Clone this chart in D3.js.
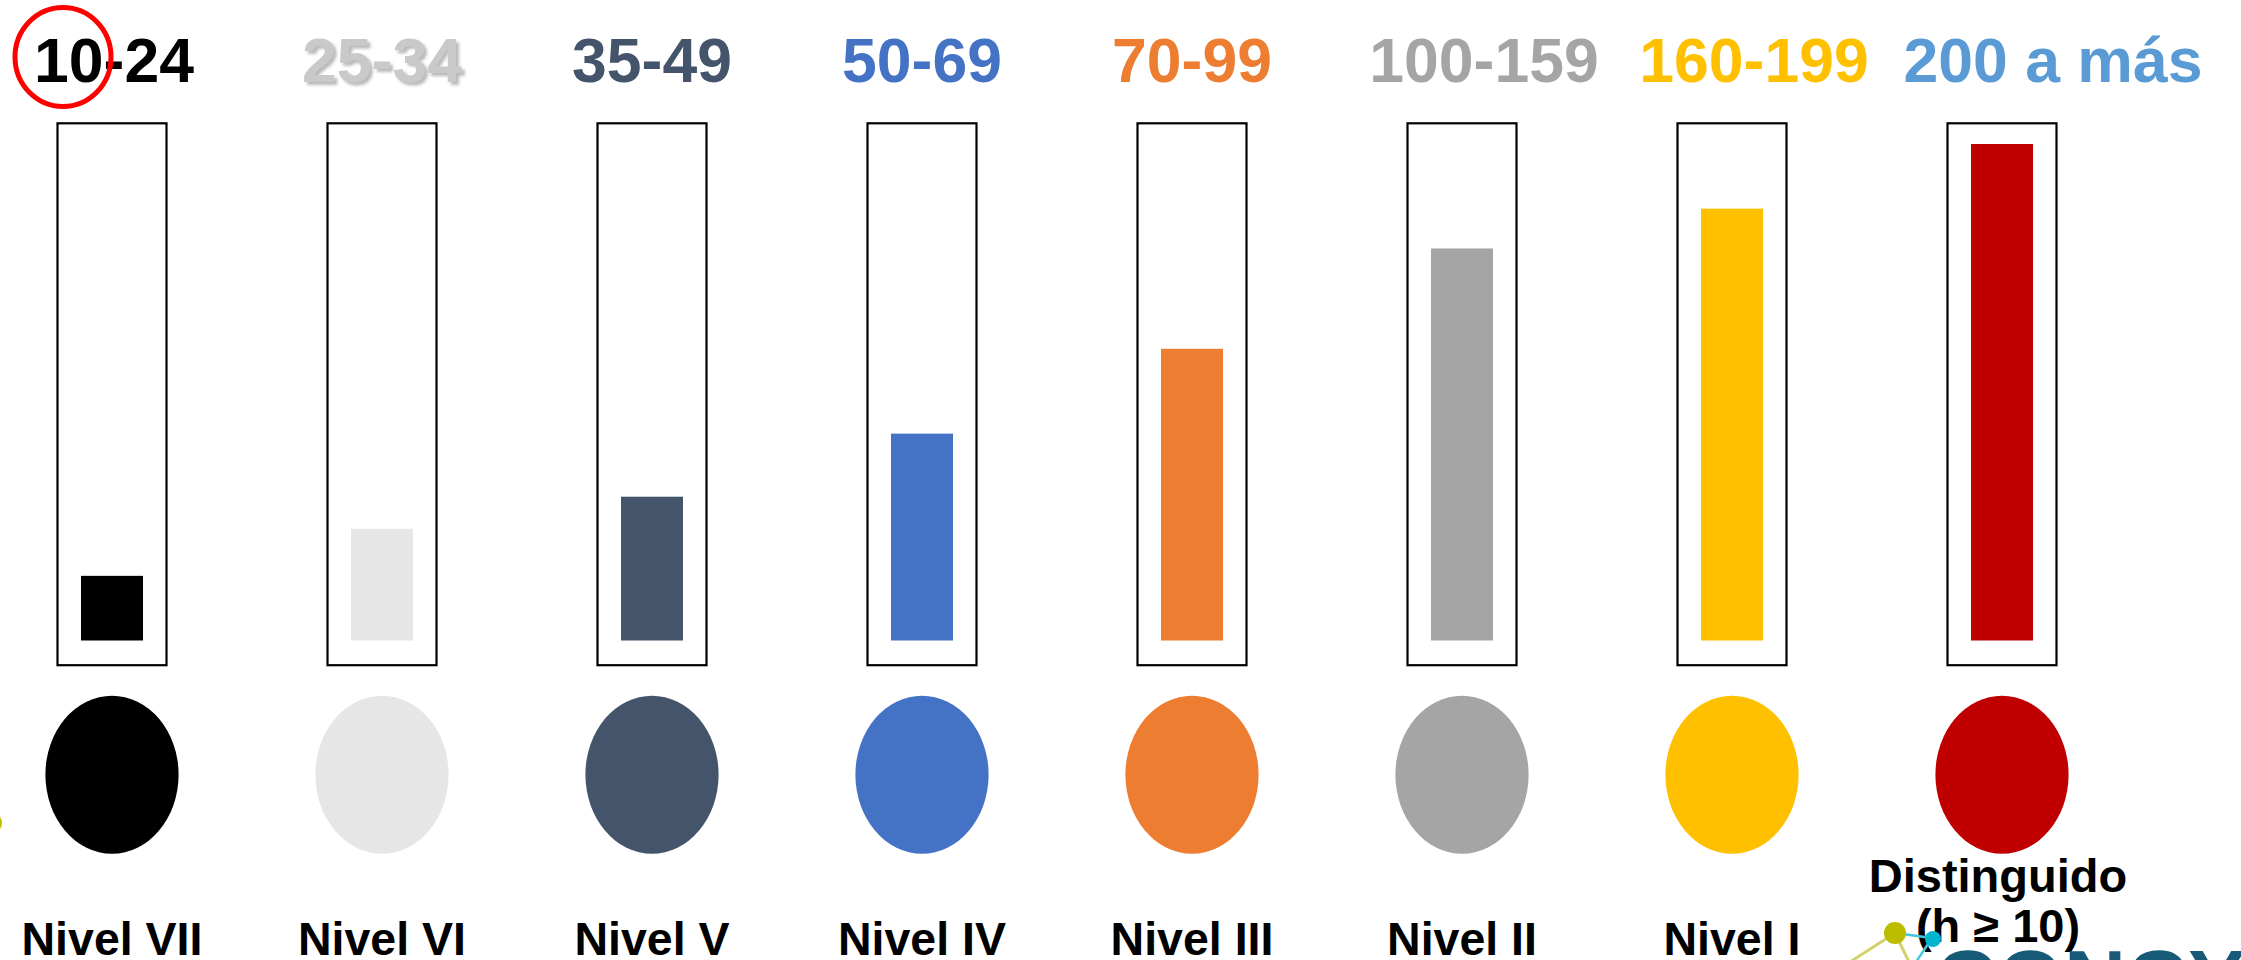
<!DOCTYPE html>
<html>
<head>
<meta charset="utf-8">
<script src="https://cdn.jsdelivr.net/npm/d3@7"></script>
<style>
  html, body { margin: 0; padding: 0; background: #fff; overflow: hidden; }
  svg { display: block; font-family: "Liberation Sans", Arial, sans-serif; }
</style>
</head>
<body>
<svg id="chart"></svg>
<script>
// h-index ranges (top labels)
const ranges = ["10-24", "25-34", "35-49", "50-69", "70-99", "100-159", "160-199", "200 a más"];
// level names (bottom labels)
const levels = ["Nivel VII", "Nivel VI", "Nivel V", "Nivel IV", "Nivel III", "Nivel II", "Nivel I", "Distinguido\n(h \u2265 10)"];
// fill of each thermometer, % of column
const fillValues = [12.5, 21.6, 27.8, 40, 56.4, 75.8, 83.5, 96];

const barColors = ["#000000", "#e6e6e6", "#44546a", "#4472c4", "#ed7d31", "#a5a5a5", "#ffc000", "#c00000"];
const rangeColors = ["#000000", "#c9c9c9", "#44546a", "#4472c4", "#ed7d31", "#a5a5a5", "#ffc000", "#5b9bd5"];
// the last three range labels sit a bit to the right in the original
const rangeShift = [2, 0, 0, 0, 0, 22, 22, 51];

const W = 2241, H = 960;
const boxTop = 123.3, boxBottom = 665.2, boxW = 109;
const barBase = 640.5, barW = 62;

const svg = d3.select("#chart")
    .attr("width", W)
    .attr("height", H);

const defs = svg.append("defs");
const shadow = defs.append("filter")
    .attr("id", "shadow")
    .attr("x", "-10%").attr("y", "-10%")
    .attr("width", "130%").attr("height", "140%");
shadow.append("feDropShadow")
    .attr("dx", 3).attr("dy", 3)
    .attr("stdDeviation", 1.6)
    .attr("flood-color", "#7f7f7f")
    .attr("flood-opacity", 0.55);

// Scales
const x = d3.scalePoint()
    .domain(ranges)
    .range([112, 2002]);

const y = d3.scaleLinear()
    .domain([0, 100])
    .range([barBase, boxTop]);

const cols = svg.selectAll("g.col")
    .data(ranges)
    .enter()
    .append("g")
    .attr("class", "col");

// outer boxes
cols.append("rect")
    .attr("x", d => x(d) - boxW / 2)
    .attr("y", boxTop)
    .attr("width", boxW)
    .attr("height", boxBottom - boxTop)
    .attr("fill", "none")
    .attr("stroke", "#000")
    .attr("stroke-width", 2.2);

// fill bars
cols.append("rect")
    .attr("x", d => x(d) - barW / 2)
    .attr("y", (d, i) => y(fillValues[i]))
    .attr("width", barW)
    .attr("height", (d, i) => y(0) - y(fillValues[i]))
    .attr("fill", (d, i) => barColors[i]);

// bulbs
cols.append("ellipse")
    .attr("cx", d => x(d))
    .attr("cy", 774.7)
    .attr("rx", 66.6)
    .attr("ry", 79)
    .attr("fill", (d, i) => barColors[i]);

// range labels
cols.append("text")
    .attr("x", (d, i) => x(d) + rangeShift[i])
    .attr("y", 81.7)
    .attr("text-anchor", "middle")
    .attr("font-size", 62.5)
    .attr("font-weight", "bold")
    .attr("fill", (d, i) => rangeColors[i])
    .attr("filter", (d, i) => i === 1 ? "url(#shadow)" : null)
    .text(d => d);

// level labels
cols.each(function(d, i) {
    const lines = levels[i].split("\n");
    const t = d3.select(this).append("text")
        .attr("text-anchor", "middle")
        .attr("font-size", lines.length > 1 ? 47 : 46.5)
        .attr("font-weight", "bold")
        .attr("fill", "#000");
    const y0 = lines.length > 1 ? 891.7 : 955;
    lines.forEach((line, k) => {
        t.append("tspan")
            .attr("x", x(d) - (lines.length > 1 ? 4 : 0))
            .attr("y", y0 + k * 50)
            .text(line);
    });
});

// red annotation circle
svg.append("ellipse")
    .attr("cx", 63)
    .attr("cy", 57)
    .attr("rx", 48)
    .attr("ry", 49.5)
    .attr("fill", "none")
    .attr("stroke", "#ff0000")
    .attr("stroke-width", 5);

// bits of the logo at the edges
svg.append("circle")
    .attr("cx", -9).attr("cy", 823).attr("r", 11)
    .attr("fill", "#c0c000");

const logo = svg.append("g");
logo.append("line")
    .attr("x1", 1895).attr("y1", 933).attr("x2", 1850).attr("y2", 962)
    .attr("stroke", "#c0c030").attr("stroke-width", 3).attr("opacity", 0.7);
logo.append("line")
    .attr("x1", 1895).attr("y1", 933).attr("x2", 1909).attr("y2", 962)
    .attr("stroke", "#c0c030").attr("stroke-width", 3).attr("opacity", 0.7);
logo.append("line")
    .attr("x1", 1895).attr("y1", 933).attr("x2", 1932).attr("y2", 938)
    .attr("stroke", "#40c8e0").attr("stroke-width", 2.5);
logo.append("line")
    .attr("x1", 1932).attr("y1", 938).attr("x2", 1916).attr("y2", 962)
    .attr("stroke", "#40c8e0").attr("stroke-width", 2.5);
logo.append("circle")
    .attr("cx", 1895).attr("cy", 933).attr("r", 11)
    .attr("fill", "#bcbc00");
logo.append("circle")
    .attr("cx", 1933).attr("cy", 939).attr("r", 8)
    .attr("fill", "#00b4d0");
const logoText = logo.append("text")
    .attr("x", 1935)
    .attr("y", 1010)
    .attr("font-size", 86)
    .attr("font-weight", "bold");
logoText.append("tspan").attr("fill", "#175a78").text("CONCY");
logoText.append("tspan").attr("fill", "#1fb8d8").text("TEC");
</script>
</body>
</html>
